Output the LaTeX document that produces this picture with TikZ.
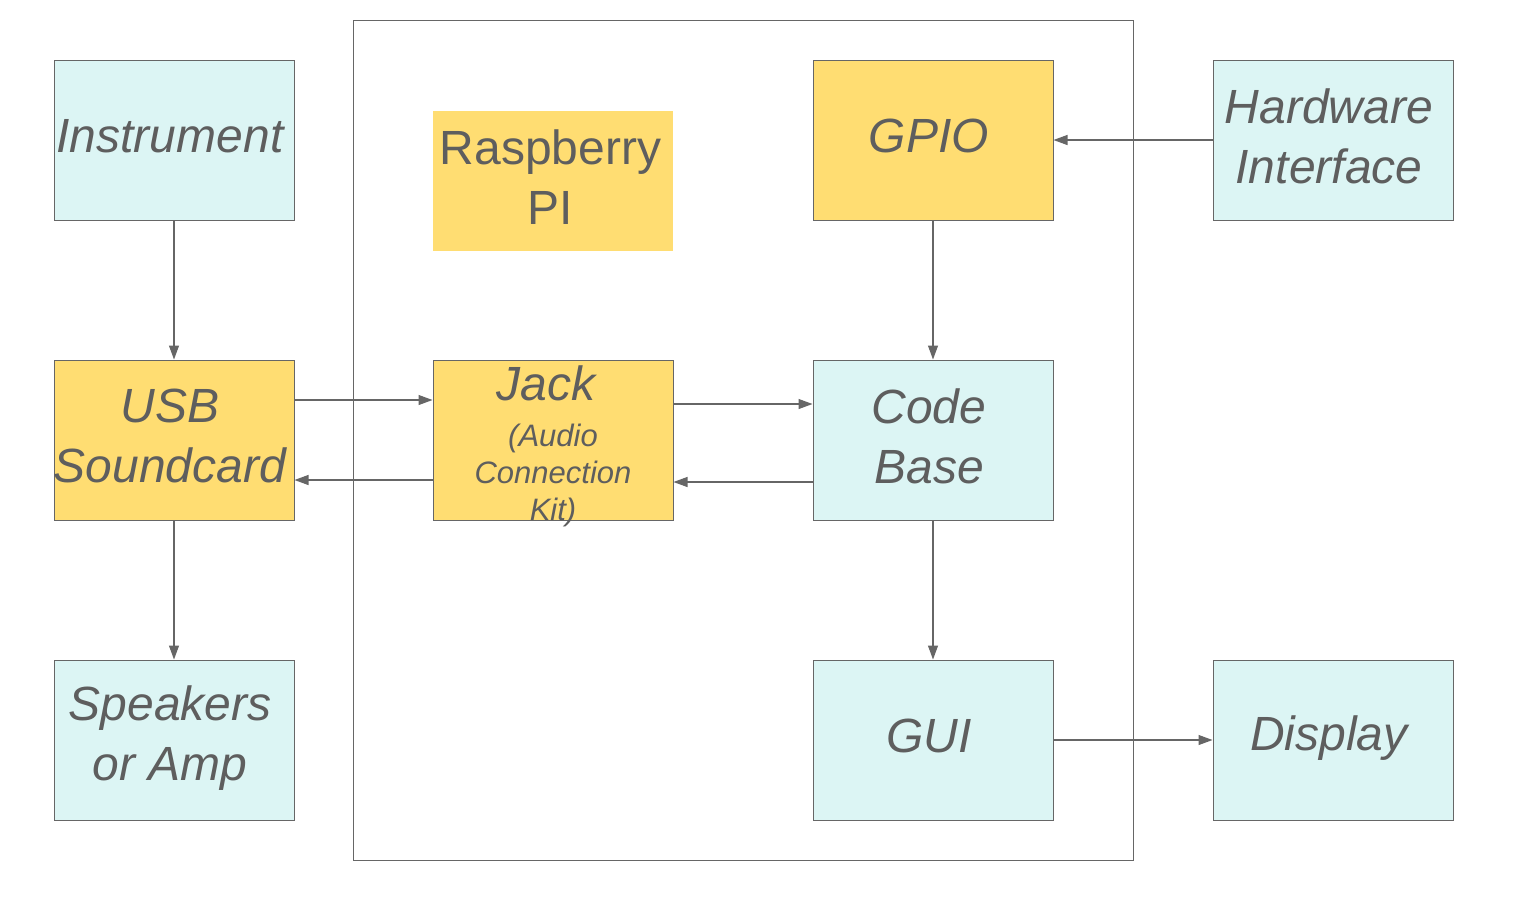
\documentclass[tikz,border=0pt]{standalone}
\usepackage{fontspec}
\setmainfont{Liberation Sans}
\usetikzlibrary{arrows.meta}
\definecolor{boxyel}{HTML}{FFDD72}
\definecolor{boxcyan}{HTML}{DCF5F4}
\definecolor{edge}{HTML}{666666}
\definecolor{txt}{HTML}{5E5E5E}
\tikzset{
  blk/.style={draw=edge, line width=1pt, minimum width=240pt, minimum height=160pt, inner sep=0pt},
  yel/.style={blk, fill=boxyel},
  cyn/.style={blk, fill=boxcyan},
  lbl/.style={text=txt, font=\fontsize{48}{60}\selectfont\itshape, align=center, inner sep=0pt,
    xshift=-4pt, yshift=4pt},
  arr/.style={draw=edge, line width=1.1pt, -{Triangle[length=14pt,width=10pt]}}
}
\begin{document}
\begin{tikzpicture}[x=1pt,y=-1pt]
\useasboundingbox (0,0) rectangle (1516,898);
\node[draw=edge, line width=1pt, minimum width=780pt, minimum height=840pt, inner sep=0pt] (pi) at (743,440) {};
\node[cyn] (instr) at (174,140) {};
\node[lbl] (instrt) at (instr.center) {Instrument};
\node[yel] (usb) at (174,440) {};
\node[lbl] (usbt) at (usb.center) {USB\\Soundcard};
\node[cyn] (spk) at (174,740) {};
\node[lbl, yshift=-2pt] (spkt) at (spk.center) {Speakers\\or Amp};
\node[fill=boxyel, minimum width=240pt, minimum height=140pt, inner sep=0pt] (rpi) at (552.5,181) {};
\node[lbl, xshift=2pt, font=\fontsize{48}{60}\selectfont] (rpit) at (rpi.center) {Raspberry\\PI};
\node[yel] (jack) at (553,440) {};
\node[lbl, xshift=0pt, yshift=0pt, anchor=base] (jackt) at (550,404) {Jack};
\node[text=txt, font=\fontsize{31}{37}\selectfont\itshape, align=center, inner sep=0pt, anchor=north]
  (jacksub) at (553,424) {(Audio\\Connection\\Kit)};
\node[yel] (gpio) at (933,140) {};
\node[lbl] (gpiot) at (gpio.center) {GPIO};
\node[cyn] (code) at (933,440) {};
\node[lbl] (codet) at (code.center) {Code\\Base};
\node[cyn] (gui) at (933,740) {};
\node[lbl] (guit) at (gui.center) {GUI};
\node[cyn] (hw) at (1333,140) {};
\node[lbl] (hwt) at (hw.center) {Hardware\\Interface};
\node[cyn] (disp) at (1333,740) {};
\node[lbl, yshift=-2pt] (dispt) at (disp.center) {Display};
\draw[arr] (instr) -- (usb);
\draw[arr] (usb) -- (spk);
\draw[arr] (usb.east |- 0,400) -- (jack.west |- 0,400);
\draw[arr] (jack.west |- 0,480) -- (usb.east |- 0,480);
\draw[arr] (jack.east |- 0,404) -- (code.west |- 0,404);
\draw[arr] (code.west |- 0,482) -- (jack.east |- 0,482);
\draw[arr] (hw) -- (gpio);
\draw[arr] (gpio) -- (code);
\draw[arr] (code) -- (gui);
\draw[arr] (gui) -- (disp);
\end{tikzpicture}
\end{document}
